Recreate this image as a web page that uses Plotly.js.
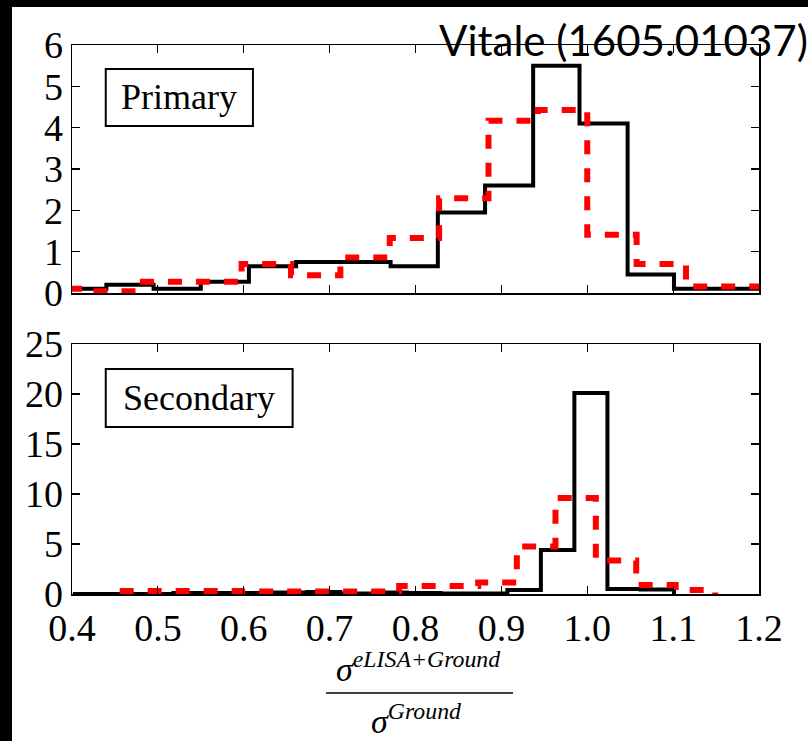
<!DOCTYPE html>
<html>
<head>
<meta charset="utf-8">
<script src="https://cdn.plot.ly/plotly-3.0.1.min.js"></script>
<style>
  html, body { margin: 0; padding: 0; background: #000; width: 808px; height: 741px; overflow: hidden; }
  #plot { position: absolute; left: 12px; top: 7px; width: 796px; height: 734px; background: #fff; }
</style>
</head>
<body>
<div id="plot"></div>
<script>
// ---------- data ----------
// Primary panel
const primaryBlackEdges = [0.385, 0.440, 0.495, 0.550, 0.606, 0.661, 0.716, 0.771, 0.826, 0.881, 0.937, 0.991, 1.047, 1.101, 1.156, 1.211];
const primaryBlackValues = [0.1, 0.2, 0.1, 0.27, 0.65, 0.75, 0.75, 0.65, 1.95, 2.6, 5.5, 4.1, 0.45, 0.1, 0.1];
const primaryRedEdges = [0.3675, 0.425, 0.4825, 0.540, 0.5975, 0.655, 0.7125, 0.770, 0.8275, 0.885, 0.9425, 1.000, 1.0575, 1.115, 1.1725, 1.230];
const primaryRedValues = [0.1, 0.04, 0.27, 0.27, 0.70, 0.43, 0.86, 1.33, 2.29, 4.17, 4.43, 1.41, 0.70, 0.16, 0.16];
// Secondary panel
const secondaryBlackEdges = [0.401, 0.440, 0.479, 0.518, 0.557, 0.596, 0.635, 0.674, 0.7125, 0.751, 0.790, 0.829, 0.868, 0.907, 0.946, 0.985, 1.0235, 1.062, 1.101];
const secondaryBlackValues = [0, 0, 0, 0.1, 0.1, 0.1, 0.15, 0.2, 0.05, 0.15, 0.1, 0.05, 0.05, 0.4, 4.4, 20.1, 0.5, 0.45];
const secondaryRedEdges = [0.459, 0.505, 0.551, 0.597, 0.643, 0.689, 0.735, 0.781, 0.827, 0.873, 0.918, 0.963, 1.010, 1.057, 1.103, 1.149];
const secondaryRedValues = [0.3, 0.3, 0.3, 0.25, 0.25, 0.25, 0.25, 0.8, 0.8, 1.15, 4.75, 9.6, 3.35, 0.9, 0.4];

const xTickValues = [0.4, 0.5, 0.6, 0.7, 0.8, 0.9, 1.0, 1.1, 1.2];
const xTickLabels = ["0.4", "0.5", "0.6", "0.7", "0.8", "0.9", "1.0", "1.1", "1.2"];
const primaryYTicks = [0, 1, 2, 3, 4, 5, 6];
const secondaryYTicks = [0, 5, 10, 15, 20, 25];

const panelLabels = ["Primary", "Secondary"];
const titleText = "Vitale (1605.01037)";

// ---------- helpers ----------
function stepXY(edges, vals) {
  const x = [edges[0]], y = [0];
  for (let i = 0; i < vals.length; i++) { x.push(edges[i]); y.push(vals[i]); }
  x.push(edges[edges.length - 1]); y.push(0);
  return {x, y};
}
function blackTrace(edges, vals, xa, ya) {
  const s = stepXY(edges, vals);
  return {x: s.x, y: s.y, xaxis: xa, yaxis: ya, type: 'scatter', mode: 'lines',
          line: {shape: 'hv', color: '#000000', width: 4}, hoverinfo: 'skip', showlegend: false};
}
function redTrace(edges, vals, xa, ya) {
  const s = stepXY(edges, vals);
  return {x: s.x, y: s.y, xaxis: xa, yaxis: ya, type: 'scatter', mode: 'lines',
          line: {shape: 'hv', color: '#ff0000', width: 6, dash: '14px,14px'}, hoverinfo: 'skip', showlegend: false};
}

const data = [
  blackTrace(primaryBlackEdges, primaryBlackValues, 'x2', 'y2'),
  redTrace(primaryRedEdges, primaryRedValues, 'x2', 'y2'),
  blackTrace(secondaryBlackEdges, secondaryBlackValues, 'x', 'y'),
  redTrace(secondaryRedEdges, secondaryRedValues, 'x', 'y')
];

// page layout geometry (div coords)
const W = 796, H = 734;
const L = 60, R = 49, T = 38, B = 147;
const plotW = W - L - R, plotH = H - T - B;
const pxX = (pageX) => (pageX - 12 - L) / plotW;
const pxY = (pageY) => (H - B - (pageY - 7)) / plotH;

const serif = 'Liberation Serif';
const axisCommon = {
  showline: true, linecolor: '#000', linewidth: 1.5, mirror: 'ticks',
  ticks: 'inside', ticklen: 8, tickwidth: 1.2, tickcolor: '#000',
  showgrid: false, zeroline: false, fixedrange: true,
  tickfont: {family: serif, size: 38, color: '#000'}
};

const layout = {
  width: W, height: H,
  font: {family: serif, color: '#000', size: 20},
  margin: {l: L, r: R, t: T, b: B, pad: 0},
  paper_bgcolor: '#ffffff', plot_bgcolor: '#ffffff',
  showlegend: false,
  xaxis: Object.assign({}, axisCommon, {domain: [0, 1], anchor: 'y', range: [0.4, 1.2],
          tickvals: xTickValues, ticktext: xTickLabels}),
  xaxis2: Object.assign({}, axisCommon, {domain: [0, 1], anchor: 'y2', range: [0.4, 1.2],
          tickvals: xTickValues, showticklabels: false}),
  yaxis: Object.assign({}, axisCommon, {domain: [0, pxY(344)], anchor: 'x', range: [0, 25],
          tickvals: secondaryYTicks, ticktext: secondaryYTicks.map(String)}),
  yaxis2: Object.assign({}, axisCommon, {domain: [pxY(293), 1], anchor: 'x2', range: [0, 6],
          tickvals: primaryYTicks, ticktext: primaryYTicks.map(String)}),
  shapes: [
    {type: 'rect', xref: 'x2', yref: 'y2', x0: 0.4393, x1: 0.6107, y0: 4.04, y1: 5.42,
     line: {color: '#000', width: 2}, fillcolor: 'rgba(255,255,255,0)'},
    {type: 'rect', xref: 'x', yref: 'y', x0: 0.4393, x1: 0.6569, y0: 16.7, y1: 22.5,
     line: {color: '#000', width: 2}, fillcolor: 'rgba(255,255,255,0)'},
    {type: 'line', xref: 'paper', yref: 'paper', x0: pxX(326), x1: pxX(513), y0: pxY(693), y1: pxY(693),
     line: {color: '#000', width: 1.5}}
  ],
  annotations: [
    {xref: 'x2', yref: 'y2', x: 0.525, y: 4.73, text: panelLabels[0], showarrow: false,
     xanchor: 'center', yanchor: 'middle', font: {family: serif, size: 36, color: '#000'}},
    {xref: 'x', yref: 'y', x: 0.548, y: 19.6, text: panelLabels[1], showarrow: false,
     xanchor: 'center', yanchor: 'middle', font: {family: serif, size: 36, color: '#000'}},
    {xref: 'paper', yref: 'paper', x: pxX(418), y: pxY(690), text: '<i>σ<sup>eLISA+Ground</sup></i>',
     showarrow: false, xanchor: 'center', yanchor: 'bottom', font: {family: serif, size: 34, color: '#000'}},
    {xref: 'paper', yref: 'paper', x: pxX(416), y: pxY(696), text: '<i>σ<sup>Ground</sup></i>',
     showarrow: false, xanchor: 'center', yanchor: 'top', font: {family: serif, size: 34, color: '#000'}},
    {xref: 'paper', yref: 'paper', x: pxX(437), y: pxY(40), text: titleText, showarrow: false,
     xanchor: 'left', yanchor: 'middle', font: {family: 'Lato', size: 42, color: '#000'}}
  ]
};

Plotly.newPlot('plot', data, layout, {staticPlot: true, displayModeBar: false});
</script>
</body>
</html>
